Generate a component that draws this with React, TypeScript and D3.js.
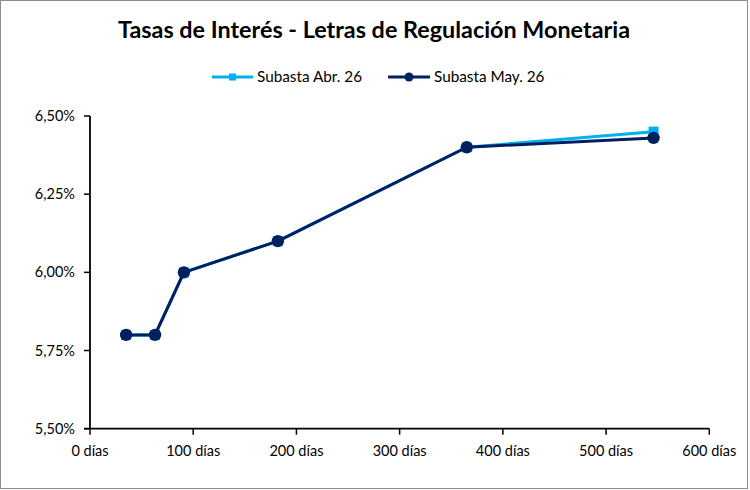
import React from "react";
import * as d3 from "d3";

// Plazo (días) y tasas de corte por subasta
const plazos = [35, 63, 91, 182, 365, 546];
const tasasAbr = [5.8, 5.8, 6.0, 6.1, 6.4, 6.45];
const tasasMay = [5.8, 5.8, 6.0, 6.1, 6.4, 6.43];
const xTicks = [0, 100, 200, 300, 400, 500, 600];
const yTicks = [5.5, 5.75, 6.0, 6.25, 6.5];
const seriesNames = ["Subasta Abr. 26", "Subasta May. 26"];
const titulo = "Tasas de Interés - Letras de Regulación Monetaria";

const W = 750;
const H = 490;
const FONT = "Lato, 'Open Sans', sans-serif";
const C_ABR = "#00B0F0";
const C_MAY = "#002060";

export default function App() {
  const x = d3.scaleLinear().domain([0, 600]).range([90, 709.3]);
  const y = d3.scaleLinear().domain([5.5, 6.5]).range([428.7, 116]);

  const line = d3
    .line<[number, number]>()
    .x((d) => x(d[0]))
    .y((d) => y(d[1]));

  const abr: [number, number][] = plazos.map((p, i) => [p, tasasAbr[i]]);
  const may: [number, number][] = plazos.map((p, i) => [p, tasasMay[i]]);

  const fmtY = (v: number) => v.toFixed(2).replace(".", ",") + "%";

  return (
    <div style={{ position: "absolute", left: 0, top: 0 }}>
      <svg width={W} height={H} style={{ display: "block" }}>
        <rect x={0} y={0} width={W} height={H} fill="#fff" />
        <rect x={0.5} y={0.5} width={747} height={488} fill="none" stroke="#8c8c8c" strokeWidth={1} />

        <text
          x={374}
          y={38}
          textAnchor="middle"
          fontFamily={FONT}
          fontWeight={700}
          fontSize={22}
          textLength={512}
          lengthAdjust="spacingAndGlyphs"
          fill="#000"
        >
          {titulo}
        </text>

        {/* Leyenda */}
        <g>
          <line x1={212} x2={253} y1={77} y2={77} stroke={C_ABR} strokeWidth={3} />
          <rect x={229} y={73.5} width={7} height={7} fill={C_ABR} />
          <text x={257} y={82} fontFamily={FONT} fontSize={15.3} fill="#000">{seriesNames[0]}</text>
          <line x1={388} x2={430} y1={77} y2={77} stroke={C_MAY} strokeWidth={3} />
          <circle cx={409} cy={77} r={4.5} fill={C_MAY} />
          <text x={434} y={82} fontFamily={FONT} fontSize={15.3} fill="#000">{seriesNames[1]}</text>
        </g>

        {/* Ejes */}
        <line x1={x(0)} x2={x(0)} y1={y(6.5)} y2={y(5.5)} stroke="#000" strokeWidth={1.8} />
        <line x1={x(0) - 6} x2={x(600)} y1={y(5.5)} y2={y(5.5)} stroke="#000" strokeWidth={1.8} />
        {yTicks.map((t) => (
          <g key={"y" + t}>
            <line x1={x(0) - 6} x2={x(0)} y1={y(t)} y2={y(t)} stroke="#000" strokeWidth={1.5} />
            <text x={x(0) - 15} y={y(t) + 5} textAnchor="end" fontFamily={FONT} fontSize={14.5} fill="#000">
              {fmtY(t)}
            </text>
          </g>
        ))}
        {xTicks.map((t) => (
          <g key={"x" + t}>
            <line x1={x(t)} x2={x(t)} y1={y(5.5)} y2={y(5.5) + 6} stroke="#000" strokeWidth={1.5} />
            <text x={x(t)} y={456} textAnchor="middle" fontFamily={FONT} fontSize={14.5} fill="#000">
              {t + " días"}
            </text>
          </g>
        ))}

        {/* Serie Abr */}
        <path d={line(abr) || ""} fill="none" stroke={C_ABR} strokeWidth={3} strokeLinejoin="round" />
        {abr.map((d, i) => (
          <rect key={"a" + i} x={x(d[0]) - 5} y={y(d[1]) - 5} width={10} height={10} fill={C_ABR} />
        ))}

        {/* Serie May */}
        <path d={line(may) || ""} fill="none" stroke={C_MAY} strokeWidth={3} strokeLinejoin="round" />
        {may.map((d, i) => (
          <circle key={"m" + i} cx={x(d[0])} cy={y(d[1])} r={6.2} fill={C_MAY} />
        ))}
      </svg>
    </div>
  );
}
